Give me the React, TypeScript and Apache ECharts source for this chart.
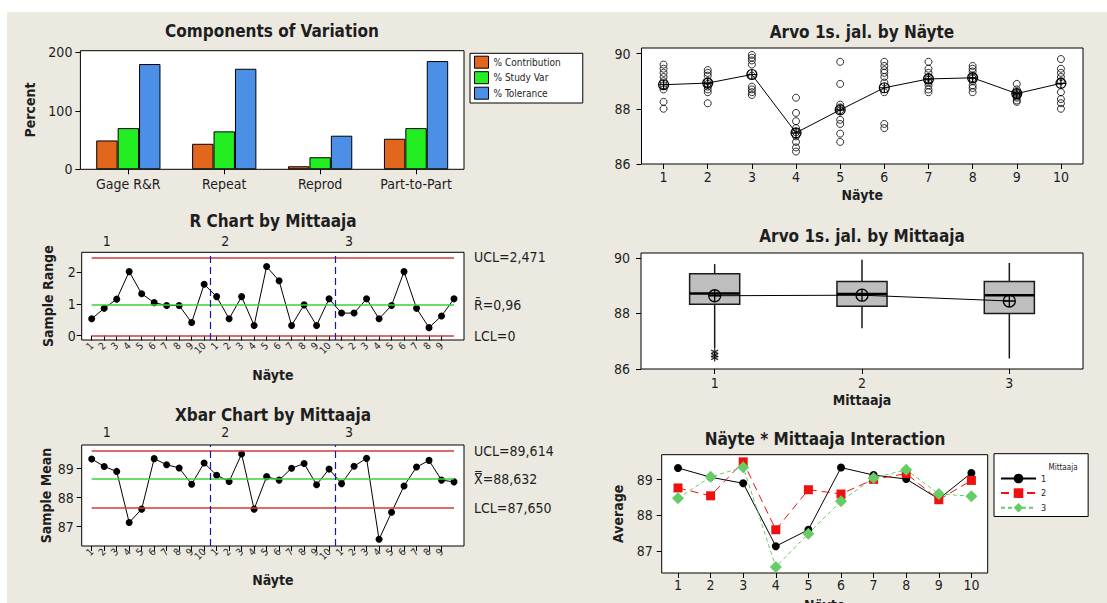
import React, { useEffect, useRef } from 'react';
import * as echarts from 'echarts';

const FONT = '"DejaVu Sans Condensed", "DejaVu Sans", sans-serif';
const INK = '#1e1e1e';
const BEIGE = '#ECE9E1';
const RED = '#D23A3A';
const GREEN = '#3CD03C';
const BLUE = '#1616A8';

// Components of variation (%)
const components = ['Gage R&R', 'Repeat', 'Reprod', 'Part-to-Part'];
const contribution = [49.3, 43.6, 5.2, 52.2];
const studyVar = [70.4, 64.8, 20.6, 70.4];
const tolerance = [179.9, 171.8, 57.4, 185.0];

const operators = ['1', '2', '3'];
const parts = ['1', '2', '3', '4', '5', '6', '7', '8', '9', '10'];

// Subgroup ranges, one value per part for each operator
const rangeOp1 = [0.53, 0.86, 1.15, 2.02, 1.32, 1.04, 0.95, 0.95, 0.41, 1.62];
const rangeOp2 = [1.23, 0.53, 1.23, 0.32, 2.18, 1.73, 0.32, 0.97, 0.32, 1.16];
const rangeOp3 = [0.71, 0.71, 1.16, 0.53, 0.95, 2.02, 0.86, 0.25, 0.62, 1.16];
const R_UCL = 2.471;
const R_BAR = 0.96;
const R_LCL = 0;

// Subgroup means, one value per part for each operator
const meanOp1 = [89.33, 89.07, 88.9, 87.14, 87.6, 89.34, 89.13, 89.02, 88.46, 89.19];
const meanOp2 = [88.77, 88.55, 89.5, 87.6, 88.72, 88.6, 89.01, 89.17, 88.44, 88.98];
const meanOp3 = [88.48, 89.08, 89.35, 86.56, 87.49, 88.4, 89.05, 89.28, 88.6, 88.54];
const X_UCL = 89.614;
const X_BAR = 88.632;
const X_LCL = 87.65;

// Individual readings per part (all operators and trials)
const readings = [
  [89.6, 89.45, 89.3, 89.15, 89.0, 88.85, 88.7, 88.25, 88.0],
  [89.4, 89.3, 89.2, 89.0, 88.9, 88.8, 88.7, 88.6, 88.2],
  [89.95, 89.85, 89.75, 89.6, 89.2, 88.8, 88.7, 88.6, 88.5],
  [88.4, 87.85, 87.55, 87.3, 87.15, 87.0, 86.8, 86.6, 86.45],
  [89.7, 88.9, 88.15, 88.05, 87.95, 87.6, 87.45, 87.1, 86.8],
  [89.7, 89.55, 89.4, 89.3, 89.15, 88.95, 88.6, 87.45, 87.3],
  [89.7, 89.45, 89.3, 89.15, 89.05, 88.95, 88.85, 88.7, 88.6],
  [89.55, 89.45, 89.35, 89.2, 89.1, 89.0, 88.85, 88.75, 88.6],
  [88.9, 88.7, 88.6, 88.55, 88.5, 88.45, 88.4, 88.3, 88.25],
  [89.8, 89.45, 89.3, 89.15, 89.0, 88.6, 88.35, 88.2, 88.0],
];
const partMeans = [88.87, 88.93, 89.24, 87.13, 87.96, 88.76, 89.08, 89.12, 88.55, 88.92];

// Box statistics per operator: min, Q1, median, Q3, max
const boxStats = [
  [86.75, 88.33, 88.72, 89.43, 89.78],
  [87.47, 88.26, 88.7, 89.15, 89.94],
  [86.38, 88.0, 88.66, 89.15, 89.82],
];
const operatorMeans = [88.64, 88.66, 88.45];
const outliersOp1 = [86.62, 86.5, 86.4];

const MEAN_SYMBOL = 'path://M0,-10A10,10,0,1,1,0,10A10,10,0,1,1,0,-10ZM0,-10L0,10M-10,0L10,0';
const STAR_SYMBOL = 'path://M0,-6L0,6M-5.2,-3L5.2,3M-5.2,3L5.2,-3';

const fi = (v: number, digits: number) => v.toFixed(digits).replace('.', ',');

const tickFont = { fontFamily: FONT, fontSize: 14, color: INK };
const nameFont = { fontFamily: FONT, fontSize: 14, fontWeight: 'bold' as const, color: INK };

const frame = (left: number, top: number, width: number, height: number) => ({
  left, top, width, height,
  show: true, backgroundColor: '#fff', borderColor: '#000', borderWidth: 1,
  containLabel: false, outerBoundsMode: 'none',
});

const sampleIdx = Array.from({ length: 30 }, (_, i) => i + 1);
const sampleLabel = (v: number) => String(((Math.round(v) - 1) % 10) + 1);
const groupLabel = (v: number) => (v < 10 ? '1' : v < 20 ? '2' : '3');

const valueY = (gridIndex: number, min: number, max: number, ticks: number[], margin: number, name = '', nameGap = 0) => ({
  type: 'value', gridIndex, min, max,
  axisLine: { show: false },
  axisTick: { show: true, length: 5, customValues: ticks, lineStyle: { color: '#000' } },
  axisLabel: { customValues: ticks, margin, ...tickFont },
  splitLine: { show: false },
  name, nameLocation: 'middle', nameGap, nameRotate: 90, nameTextStyle: nameFont,
});

const sampleX = (gridIndex: number, nameGap: number) => ({
  type: 'value', gridIndex, min: 0.2, max: 30.8,
  axisLine: { show: false },
  axisTick: { show: true, length: 5, customValues: sampleIdx, lineStyle: { color: '#000' } },
  axisLabel: { customValues: sampleIdx, rotate: 45, margin: 4, formatter: sampleLabel, fontFamily: FONT, fontSize: 10, color: INK },
  splitLine: { show: false },
  name: 'Näyte', nameLocation: 'middle', nameGap, nameTextStyle: nameFont,
});

const groupX = (gridIndex: number, margin: number) => ({
  type: 'value', gridIndex, position: 'top', min: 0.2, max: 30.8,
  axisLine: { show: false },
  axisTick: { show: false },
  axisLabel: { customValues: [2.2, 11.7, 21.6], margin, formatter: groupLabel, ...tickFont },
  splitLine: { show: false },
});

const categoryX = (gridIndex: number, data: string[], margin: number, name = '', nameGap = 0) => ({
  type: 'category', gridIndex, data, boundaryGap: true,
  axisLine: { show: false },
  axisTick: { show: true, alignWithLabel: true, length: 5, lineStyle: { color: '#000' } },
  axisLabel: { margin, interval: 0, ...tickFont },
  splitLine: { show: false },
  name, nameLocation: 'middle', nameGap, nameTextStyle: nameFont,
});

const limitLine = (value: number, label: string, color: string) => [
  {
    coord: [1, value],
    lineStyle: { color, width: 1.5, type: 'solid' },
    label: { show: true, position: 'end', distance: 20, formatter: label, ...tickFont },
  },
  { coord: [30, value] },
];
const groupDivider = (x: number) => ({
  xAxis: x,
  lineStyle: { color: BLUE, width: 1.2, type: [7, 4] },
  label: { show: false },
});

const title = (text: string, x: number, y: number) => ({
  type: 'text', x, y, z: 100,
  style: { text, fill: INK, font: `bold 17px ${FONT}`, align: 'center', verticalAlign: 'middle' },
});

const option = {
  animation: false,
  backgroundColor: 'transparent',
  grid: [
    frame(80.4, 50.7, 383.6, 118.6),
    frame(81.7, 252.3, 382.3, 87.7),
    frame(81.7, 445, 382.3, 101),
    frame(641.5, 48, 441.5, 116),
    frame(641, 253, 442, 116),
    frame(661.7, 454.7, 326, 118.3),
  ],
  xAxis: [
    categoryX(0, components, 8),
    sampleX(1, 28),
    groupX(1, 4),
    sampleX(2, 27),
    groupX(2, 6),
    categoryX(3, parts, 6, 'Näyte', 24),
    categoryX(4, operators, 7, 'Mittaaja', 24),
    categoryX(5, parts, 5, 'Näyte', 25),
  ],
  yAxis: [
    valueY(0, 0, 202.7, [0, 100, 200], 8, 'Percent', 43),
    valueY(1, -0.14, 2.63, [0, 1, 2], 6, 'Sample Range', 27),
    valueY(2, 86.33, 89.81, [87, 88, 89], 8, 'Sample Mean', 29),
    valueY(3, 86, 90.2, [86, 88, 90], 11),
    valueY(4, 86, 90.18, [86, 88, 90], 11),
    valueY(5, 86.39, 89.7, [87, 88, 89], 9, 'Average', 37),
  ],
  legend: [
    {
      data: ['% Contribution', '% Study Var', '% Tolerance'],
      left: 470, top: 53.3, orient: 'vertical', icon: 'rect',
      itemWidth: 14, itemHeight: 12, itemGap: 2.5, padding: [2.4, 22, 3.3, 4],
      backgroundColor: '#fff', borderColor: '#000', borderWidth: 1,
      itemStyle: { borderColor: '#000', borderWidth: 1 },
      textStyle: { fontFamily: FONT, fontSize: 10, color: INK },
      selectedMode: false,
    },
    {
      data: ['1', '2', '3'],
      left: 994, top: 453.7, orient: 'vertical',
      itemWidth: 35, itemHeight: 12, itemGap: 5, padding: [20, 42, 4, 6],
      backgroundColor: '#fff', borderColor: '#000', borderWidth: 1,
      textStyle: { fontFamily: FONT, fontSize: 9, color: INK },
      selectedMode: false,
    },
  ],
  graphic: [
    title('Components of Variation', 272, 30.5),
    title('R Chart by Mittaaja', 273, 220.5),
    title('Xbar Chart by Mittaaja', 273, 415),
    title('Arvo 1s. jal. by Näyte', 862, 32),
    title('Arvo 1s. jal. by Mittaaja', 862, 235.5),
    title('Näyte * Mittaaja Interaction', 825, 439),
    {
      type: 'text', x: 1063, y: 467, z: 100,
      style: { text: 'Mittaaja', fill: INK, font: `8px ${FONT}`, align: 'center', verticalAlign: 'middle' },
    },
  ],
  series: [
    // Components of variation
    {
      name: '% Contribution', type: 'bar', xAxisIndex: 0, yAxisIndex: 0, data: contribution,
      barGap: '0%', barCategoryGap: '33%',
      itemStyle: { color: '#E2661C', borderColor: '#000', borderWidth: 1 },
    },
    {
      name: '% Study Var', type: 'bar', xAxisIndex: 0, yAxisIndex: 0, data: studyVar,
      barGap: '0%', barCategoryGap: '33%',
      itemStyle: { color: '#22EE22', borderColor: '#000', borderWidth: 1 },
    },
    {
      name: '% Tolerance', type: 'bar', xAxisIndex: 0, yAxisIndex: 0, data: tolerance,
      barGap: '0%', barCategoryGap: '33%',
      itemStyle: { color: '#4C8FE6', borderColor: '#000', borderWidth: 1 },
    },
    // R chart
    {
      name: 'Range', type: 'line', xAxisIndex: 1, yAxisIndex: 1,
      data: [...rangeOp1, ...rangeOp2, ...rangeOp3].map((v, i) => [i + 1, v]),
      symbol: 'circle', symbolSize: 7,
      itemStyle: { color: '#000' }, lineStyle: { color: '#000', width: 1 },
      markLine: {
        silent: true, symbol: ['none', 'none'],
        data: [
          limitLine(R_UCL, `UCL=${fi(R_UCL, 3)}`, RED),
          limitLine(R_BAR, `R\u0304=${fi(R_BAR, 2)}`, GREEN),
          limitLine(R_LCL, `LCL=${fi(R_LCL, 0)}`, RED),
          groupDivider(10.5),
          groupDivider(20.5),
        ],
      },
    },
    // Xbar chart
    {
      name: 'Mean', type: 'line', xAxisIndex: 3, yAxisIndex: 2,
      data: [...meanOp1, ...meanOp2, ...meanOp3].map((v, i) => [i + 1, v]),
      symbol: 'circle', symbolSize: 7,
      itemStyle: { color: '#000' }, lineStyle: { color: '#000', width: 1 },
      markLine: {
        silent: true, symbol: ['none', 'none'],
        data: [
          limitLine(X_UCL, `UCL=${fi(X_UCL, 3)}`, RED),
          limitLine(X_BAR, `X\u033F=${fi(X_BAR, 3)}`, GREEN),
          limitLine(X_LCL, `LCL=${fi(X_LCL, 3)}`, RED),
          groupDivider(10.5),
          groupDivider(20.5),
        ],
      },
    },
    // Readings by part
    {
      name: 'Readings', type: 'scatter', xAxisIndex: 5, yAxisIndex: 3,
      data: readings.flatMap((vals, i) => vals.map((v) => [i, v])),
      symbol: 'circle', symbolSize: 7,
      itemStyle: { color: 'rgba(0,0,0,0)', borderColor: '#000', borderWidth: 1 },
    },
    {
      name: 'Part mean', type: 'line', xAxisIndex: 5, yAxisIndex: 3, data: partMeans,
      symbol: MEAN_SYMBOL, symbolSize: 10, z: 5,
      itemStyle: { color: 'rgba(0,0,0,0)', borderColor: '#000', borderWidth: 1.2 },
      lineStyle: { color: '#000', width: 1 },
    },
    // Readings by operator
    {
      name: 'Box', type: 'custom', xAxisIndex: 6, yAxisIndex: 4,
      data: boxStats.map((s, i) => [i, ...s]),
      encode: { x: 0, y: [1, 2, 3, 4, 5] },
      renderItem: (_params: any, api: any) => {
        const i = api.value(0);
        const lo = api.coord([i, api.value(1)]);
        const q1 = api.coord([i, api.value(2)]);
        const md = api.coord([i, api.value(3)]);
        const q3 = api.coord([i, api.value(4)]);
        const hi = api.coord([i, api.value(5)]);
        const half = api.size([1, 0])[0] * 0.17;
        return {
          type: 'group',
          children: [
            { type: 'line', shape: { x1: lo[0], y1: lo[1], x2: hi[0], y2: hi[1] }, style: { stroke: '#1a1a1a', lineWidth: 1.5 } },
            { type: 'rect', shape: { x: q3[0] - half, y: q3[1], width: half * 2, height: q1[1] - q3[1] }, style: { fill: '#BEBEBE', stroke: '#1a1a1a', lineWidth: 1.5 } },
            { type: 'line', shape: { x1: md[0] - half, y1: md[1], x2: md[0] + half, y2: md[1] }, style: { stroke: '#000', lineWidth: 2.5 } },
          ],
        };
      },
    },
    {
      name: 'Operator mean', type: 'line', xAxisIndex: 6, yAxisIndex: 4, data: operatorMeans,
      symbol: MEAN_SYMBOL, symbolSize: 12, z: 5,
      itemStyle: { color: 'rgba(0,0,0,0)', borderColor: '#000', borderWidth: 1.3 },
      lineStyle: { color: '#000', width: 1 },
    },
    {
      name: 'Outliers', type: 'scatter', xAxisIndex: 6, yAxisIndex: 4,
      data: outliersOp1.map((v) => [0, v]),
      symbol: STAR_SYMBOL, symbolSize: 7, z: 5,
      itemStyle: { color: 'rgba(0,0,0,0)', borderColor: '#000', borderWidth: 1.3 },
    },
    // Part x operator interaction
    {
      name: '1', type: 'line', xAxisIndex: 7, yAxisIndex: 5, data: meanOp1,
      symbol: 'circle', symbolSize: 8,
      itemStyle: { color: '#000' }, lineStyle: { color: '#000', width: 1 },
    },
    {
      name: '2', type: 'line', xAxisIndex: 7, yAxisIndex: 5, data: meanOp2,
      symbol: 'rect', symbolSize: 9,
      itemStyle: { color: '#EE1111' }, lineStyle: { color: '#EE1111', width: 1, type: [8, 5] },
    },
    {
      name: '3', type: 'line', xAxisIndex: 7, yAxisIndex: 5, data: meanOp3,
      symbol: 'diamond', symbolSize: 12,
      itemStyle: { color: '#66CC66' }, lineStyle: { color: '#66CC66', width: 1, type: [4, 3] },
    },
  ],
};

export default function App() {
  const ref = useRef<HTMLDivElement>(null);
  useEffect(() => {
    const chart = echarts.init(ref.current as HTMLDivElement, null, { renderer: 'svg', width: 1107, height: 603 });
    chart.setOption(option as any);
    return () => chart.dispose();
  }, []);
  return (
    <div style={{ position: 'fixed', left: 0, top: 0, width: 1107, height: 603, background: '#fff', overflow: 'hidden' }}>
      <div style={{ position: 'absolute', left: 7, top: 12, right: 0, bottom: 0, background: BEIGE }} />
      <div ref={ref} style={{ position: 'absolute', left: 0, top: 0, width: 1107, height: 603 }} />
    </div>
  );
}
